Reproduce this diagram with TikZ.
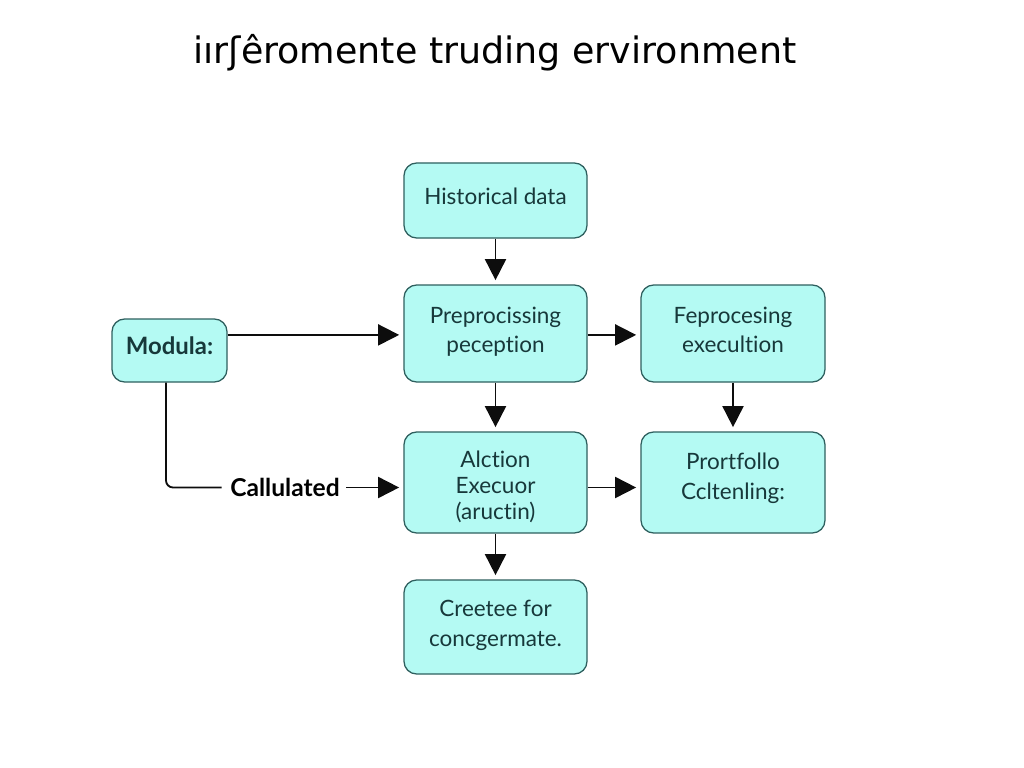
\documentclass[tikz,border=0pt]{standalone}
\usepackage{fontspec}
\setmainfont[Ligatures=CommonOff]{Lato}
\newfontfamily\titlefont{DejaVu Sans}
\usetikzlibrary{arrows.meta}
\definecolor{boxfill}{HTML}{B4FAF3}
\definecolor{boxline}{HTML}{2E5F5E}
\definecolor{boxtext}{HTML}{17383A}
\tikzset{>={Triangle[length=15pt,width=15pt]}}
\tikzset{
  flowbox/.style={draw=boxline,fill=boxfill,line width=0.9pt,rounded corners=9pt,
    text=boxtext,align=center,font=\fontsize{16}{21}\selectfont,inner sep=0pt,text depth=5.5pt},
  flowarrow/.style={->,line width=1.3pt,black!95,shorten >=3pt},
}

\begin{document}
\begin{tikzpicture}[x=0.025cm,y=-0.025cm]
\useasboundingbox (0,0) rectangle (1024,768);
\node (title) at (495,53) {\titlefont\fontsize{25.9}{30}\selectfont iırʃêromente truding ervironment};
\node[flowbox,minimum width=183*0.025cm,minimum height=75*0.025cm] (hist) at (495.5,200.5) {Historical data};
\node[flowbox,minimum width=183*0.025cm,minimum height=97*0.025cm] (preproc) at (495.5,333.5) {Preprocissing\\peception};
\node[flowbox,minimum width=184*0.025cm,minimum height=97*0.025cm] (feproc) at (733,333.5) {Feprocesing\\execultion};
\node[flowbox,minimum width=115*0.025cm,minimum height=63*0.025cm,text depth=7pt,font=\fontsize{17}{20}\selectfont\bfseries] (modula) at (169.5,350.5) {Modula:};
\node[flowbox,minimum width=183*0.025cm,minimum height=101*0.025cm,text height=52pt,text depth=0pt,font=\fontsize{16}{18.5}\selectfont] (action) at (495.5,482.5) {Alction\\Execuor\\(aructin)};
\node[flowbox,minimum width=184*0.025cm,minimum height=101*0.025cm,text depth=9pt] (port) at (733,482.5) {Prortfollo\\Ccltenling:};
\node[flowbox,minimum width=183*0.025cm,minimum height=94*0.025cm] (create) at (495.5,627) {Creetee for\\concgermate.};
\node[font=\fontsize{17.5}{20}\selectfont\bfseries,text=black,inner sep=0pt] (calc) at (285,487.5) {Callulated};
% connectors
\draw[flowarrow] (hist) -- (preproc);
\draw[flowarrow] (preproc) -- (action);
\draw[flowarrow] (action) -- (create);
\draw[flowarrow] (feproc) -- (port);
\draw[flowarrow] ([yshift=-1pt]modula.east |- preproc.west) -- ([yshift=-1pt]preproc.west);
\draw[flowarrow] ([yshift=-1pt]preproc.east) -- ([yshift=-1pt]feproc.west);
\draw[flowarrow] (action.east |- calc) -- (port.west |- calc);
\draw[flowarrow] ([xshift=4.5pt]calc.east) -- (action.west |- calc);
\draw[line width=1.3pt,black!95,rounded corners=5pt] (modula.south -| 166,382) -- (166,487.5) -- ([xshift=-6pt]calc.west);
\end{tikzpicture}
\end{document}
